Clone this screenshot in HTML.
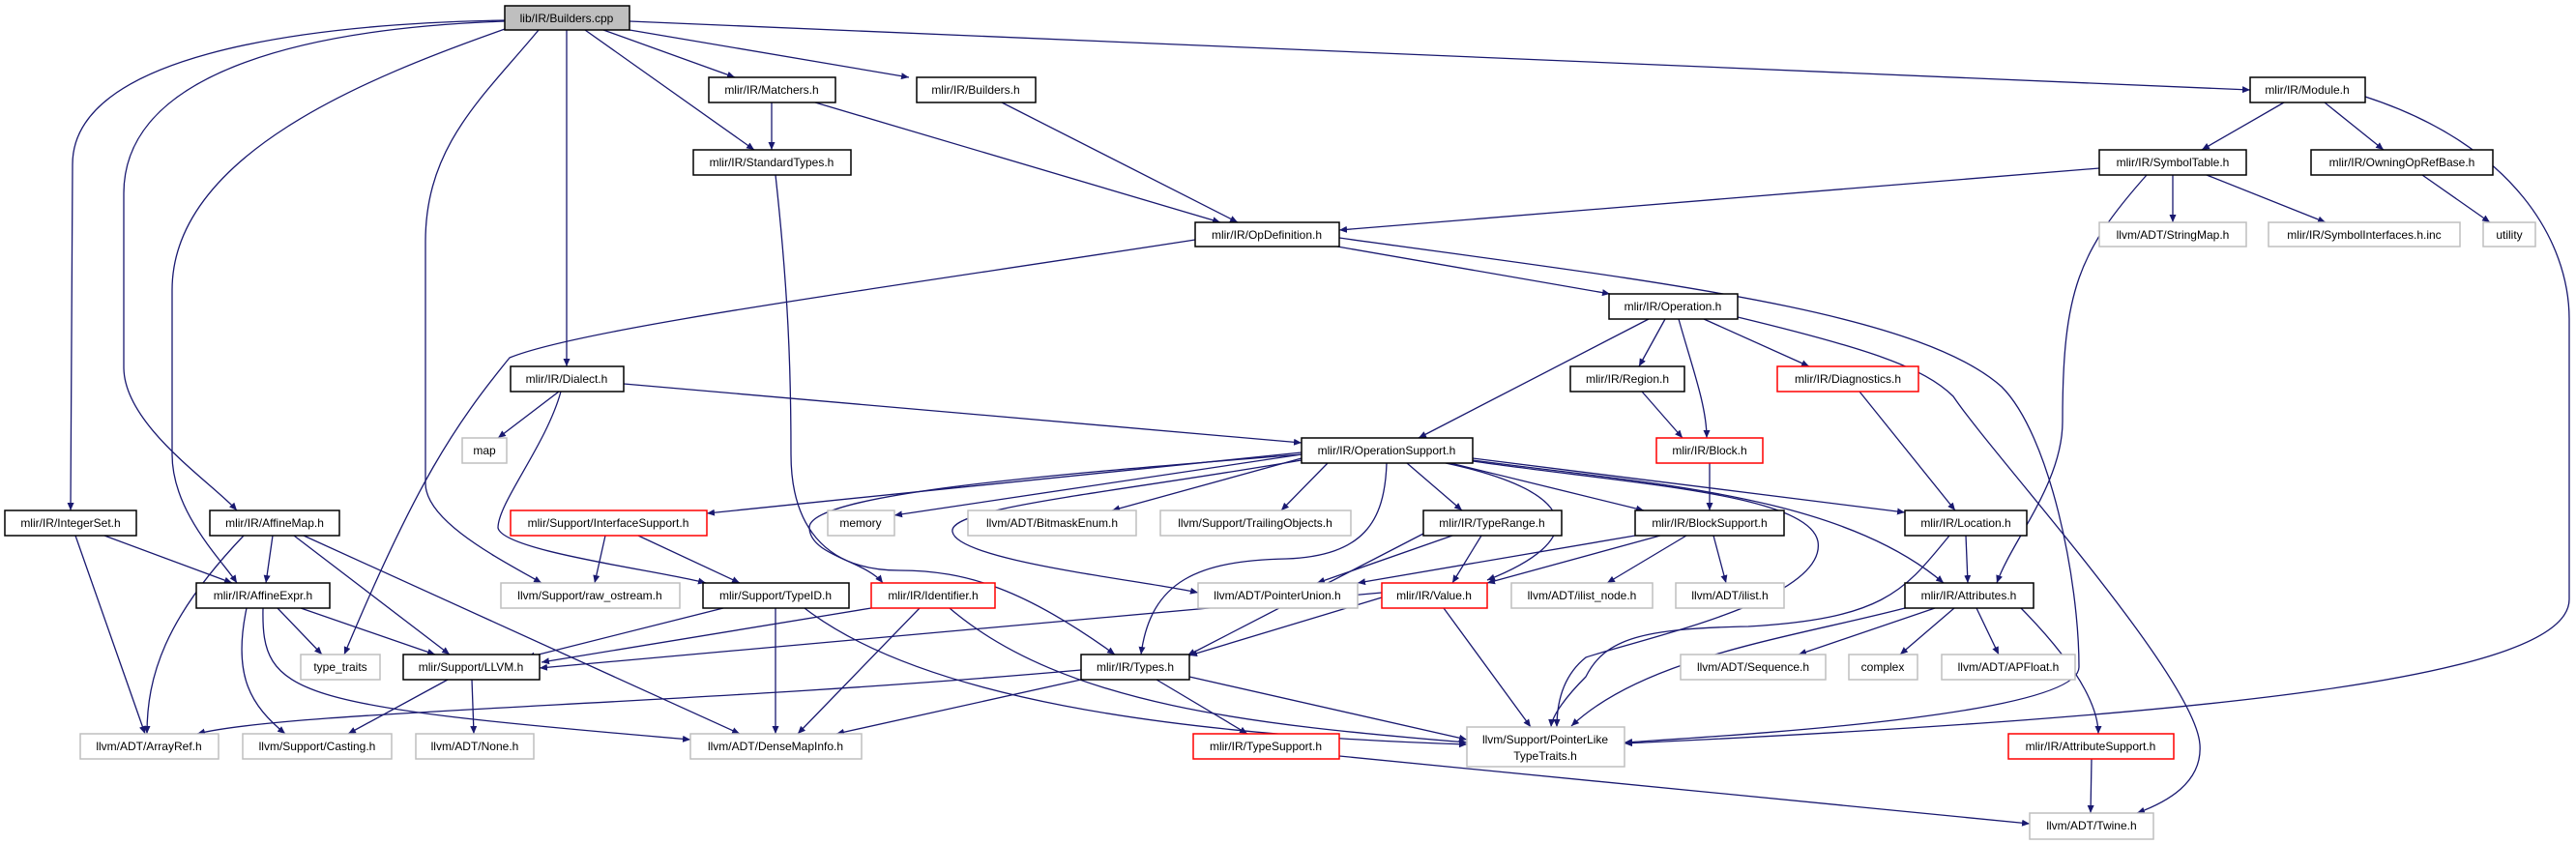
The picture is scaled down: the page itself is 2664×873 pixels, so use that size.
<!DOCTYPE html>
<html><head><meta charset="utf-8"><style>
html,body{margin:0;padding:0;background:#fff;}
svg{display:block;}
text{font-family:"Liberation Sans",sans-serif;font-size:12px;fill:#000;text-anchor:middle;}
.n{fill:#fff;stroke:#000;stroke-width:1.5;}
.g{fill:#fff;stroke:#bfbfbf;stroke-width:1.5;}
.r{fill:#fff;stroke:#ff0000;stroke-width:1.5;}
.e{fill:none;stroke:#191970;stroke-width:1.3;marker-end:url(#a);}
</style></head><body>
<svg width="2664" height="873" viewBox="0 0 2664 873" xmlns="http://www.w3.org/2000/svg">
<defs><marker id="a" viewBox="0 0 10 10" refX="10" refY="5" markerWidth="8" markerHeight="7" markerUnits="userSpaceOnUse" orient="auto" preserveAspectRatio="none"><path d="M0,0 L10,5 L0,10 z" fill="#191970"/></marker></defs>
<g>
<path class="e" d="M522,21 C300,25 75,60 75,170 L73,528"/>
<path class="e" d="M522,22 C300,30 128,80 128,200 L128,380 C128,440 220,500 245,528"/>
<path class="e" d="M525,29 C380,80 178,160 178,300 L178,470 C178,530 230,580 245,603"/>
<path class="e" d="M557,31 C500,100 440,150 440,250 L440,500 C440,540 520,580 560,603"/>
<path class="e" d="M586,31 L586,379"/>
<path class="e" d="M605,31 L780,155"/>
<path class="e" d="M624,31 L760,80"/>
<path class="e" d="M651,31 L940,80"/>
<path class="e" d="M651,22 L2327,93"/>
<path class="e" d="M798,106 L798,155"/>
<path class="e" d="M843,106 L1262,230"/>
<path class="e" d="M1036,106 L1280,230"/>
<path class="e" d="M802,181 C815,300 818,380 818,470 C818,540 850,590 930,590 C1000,590 1060,610 1153,677"/>
<path class="e" d="M1236,248 C900,300 600,340 527,370 C470,440 430,500 356,677"/>
<path class="e" d="M1383,255 L1665,304"/>
<path class="e" d="M1385,246 C1700,290 1980,320 2070,400 C2120,450 2150,600 2150,690 C2150,740 1800,760 1680,768"/>
<path class="e" d="M2362,106 L2277,155"/>
<path class="e" d="M2404,106 L2465,155"/>
<path class="e" d="M2446,100 C2600,150 2657,250 2657,330 L2657,620 C2657,700 2300,740 1680,769"/>
<path class="e" d="M2171,174 L1385,238"/>
<path class="e" d="M2247,181 L2247,230"/>
<path class="e" d="M2282,181 L2405,230"/>
<path class="e" d="M2220,181 C2150,260 2133,300 2133,436 C2133,500 2080,560 2065,603"/>
<path class="e" d="M2505,181 L2575,230"/>
<path class="e" d="M1705,330 L1467,453"/>
<path class="e" d="M1722,330 L1695,379"/>
<path class="e" d="M1736,330 C1750,380 1765,420 1765,453"/>
<path class="e" d="M1762,330 L1871,379"/>
<path class="e" d="M1797,328 C1930,360 1990,380 2020,410 C2060,470 2270,700 2275,770 C2278,810 2240,830 2210,841"/>
<path class="e" d="M1698,405 L1740,453"/>
<path class="e" d="M1923,405 L2022,528"/>
<path class="e" d="M578,405 L515,453"/>
<path class="e" d="M580,405 C565,460 515,520 515,546 C520,570 680,590 730,603"/>
<path class="e" d="M645,397 L1346,458"/>
<path class="e" d="M1346,468 L731,531"/>
<path class="e" d="M1346,470 L925,533"/>
<path class="e" d="M1346,474 L1150,528"/>
<path class="e" d="M1373,479 L1325,528"/>
<path class="e" d="M1346,470 C1100,490 835,510 837,546 C838,575 895,580 913,603"/>
<path class="e" d="M1346,476 C1150,510 980,525 985,550 C990,580 1180,600 1239,613"/>
<path class="e" d="M1434,479 C1432,540 1410,575 1330,578 C1240,580 1190,600 1180,677"/>
<path class="e" d="M1455,479 L1512,528"/>
<path class="e" d="M1495,479 C1640,510 1640,560 1538,600"/>
<path class="e" d="M1500,479 L1700,528"/>
<path class="e" d="M1523,474 L1970,530"/>
<path class="e" d="M1523,476 C1700,500 1900,510 2010,603"/>
<path class="e" d="M1523,477 C1680,500 1870,510 1880,560 C1890,620 1700,660 1640,680 C1615,700 1610,730 1610,752"/>
<path class="e" d="M1502,554 L1362,603"/>
<path class="e" d="M1472,552 L1228,678"/>
<path class="e" d="M1532,554 L1502,603"/>
<path class="e" d="M1691,554 L1404,603"/>
<path class="e" d="M1717,554 L1538,603"/>
<path class="e" d="M1744,554 L1662,603"/>
<path class="e" d="M1772,554 L1785,603"/>
<path class="e" d="M1768,479 L1768,528"/>
<path class="e" d="M2033,554 L2035,603"/>
<path class="e" d="M2016,554 C1970,610 1950,640 1808,648 C1700,650 1660,660 1640,700 C1620,720 1605,740 1604,752"/>
<path class="e" d="M1429,613 L558,691"/>
<path class="e" d="M1429,618 L1230,678"/>
<path class="e" d="M1493,629 L1583,752"/>
<path class="e" d="M1970,629 C1850,660 1700,680 1625,751"/>
<path class="e" d="M2001,629 L1860,677"/>
<path class="e" d="M2021,629 L1965,677"/>
<path class="e" d="M2044,629 L2067,677"/>
<path class="e" d="M2090,629 C2160,700 2170,740 2170,759"/>
<path class="e" d="M2163,785 L2162,841"/>
<path class="e" d="M1385,782 L2099,852"/>
<path class="e" d="M1118,693 C700,730 300,735 204,759"/>
<path class="e" d="M1118,703 L865,759"/>
<path class="e" d="M1196,703 L1290,759"/>
<path class="e" d="M1230,700 L1517,765"/>
<path class="e" d="M901,629 L560,685"/>
<path class="e" d="M951,629 L825,759"/>
<path class="e" d="M982,629 C1100,730 1300,750 1517,768"/>
<path class="e" d="M748,629 L545,680"/>
<path class="e" d="M802,629 L802,759"/>
<path class="e" d="M832,629 C950,720 1200,760 1517,770"/>
<path class="e" d="M626,554 L615,603"/>
<path class="e" d="M660,554 L765,603"/>
<path class="e" d="M108,554 L240,603"/>
<path class="e" d="M78,554 L150,759"/>
<path class="e" d="M282,554 L275,603"/>
<path class="e" d="M304,554 L465,677"/>
<path class="e" d="M314,554 L765,759"/>
<path class="e" d="M252,554 C170,640 152,700 152,759"/>
<path class="e" d="M287,629 L333,677"/>
<path class="e" d="M311,629 L450,677"/>
<path class="e" d="M255,629 C240,700 260,730 295,759"/>
<path class="e" d="M272,629 C270,720 300,730 714,765"/>
<path class="e" d="M463,703 L360,759"/>
<path class="e" d="M488,703 L490,759"/>
</g>
<g>
<rect x="522" y="6" width="129" height="25" fill="#bfbfbf" stroke="#000" stroke-width="1.5"/><text x="586" y="23">lib/IR/Builders.cpp</text>
<rect class="n" x="733" y="80" width="131" height="26"/><text x="798" y="97">mlir/IR/Matchers.h</text>
<rect class="n" x="948" y="80" width="123" height="26"/><text x="1009" y="97">mlir/IR/Builders.h</text>
<rect class="n" x="717" y="155" width="163" height="26"/><text x="798" y="172">mlir/IR/StandardTypes.h</text>
<rect class="n" x="1236" y="230" width="149" height="25"/><text x="1310" y="247">mlir/IR/OpDefinition.h</text>
<rect class="n" x="528" y="379" width="117" height="26"/><text x="586" y="396">mlir/IR/Dialect.h</text>
<rect class="n" x="2327" y="80" width="119" height="26"/><text x="2386" y="97">mlir/IR/Module.h</text>
<rect class="n" x="2171" y="155" width="152" height="26"/><text x="2247" y="172">mlir/IR/SymbolTable.h</text>
<rect class="n" x="2390" y="155" width="188" height="26"/><text x="2484" y="172">mlir/IR/OwningOpRefBase.h</text>
<rect class="g" x="2171" y="230" width="152" height="25"/><text x="2247" y="247">llvm/ADT/StringMap.h</text>
<rect class="g" x="2346" y="230" width="198" height="25"/><text x="2445" y="247">mlir/IR/SymbolInterfaces.h.inc</text>
<rect class="g" x="2568" y="230" width="54" height="25"/><text x="2595" y="247">utility</text>
<rect class="n" x="1664" y="304" width="133" height="26"/><text x="1730" y="321">mlir/IR/Operation.h</text>
<rect class="n" x="1624" y="379" width="118" height="26"/><text x="1683" y="396">mlir/IR/Region.h</text>
<rect class="r" x="1838" y="379" width="146" height="26"/><text x="1911" y="396">mlir/IR/Diagnostics.h</text>
<rect class="g" x="478" y="453" width="46" height="26"/><text x="501" y="470">map</text>
<rect class="n" x="1346" y="453" width="177" height="26"/><text x="1434" y="470">mlir/IR/OperationSupport.h</text>
<rect class="r" x="1713" y="453" width="110" height="26"/><text x="1768" y="470">mlir/IR/Block.h</text>
<rect class="n" x="5" y="528" width="136" height="26"/><text x="73" y="545">mlir/IR/IntegerSet.h</text>
<rect class="n" x="217" y="528" width="134" height="26"/><text x="284" y="545">mlir/IR/AffineMap.h</text>
<rect class="r" x="528" y="528" width="203" height="26"/><text x="629" y="545">mlir/Support/InterfaceSupport.h</text>
<rect class="g" x="856" y="528" width="69" height="26"/><text x="890" y="545">memory</text>
<rect class="g" x="1001" y="528" width="174" height="26"/><text x="1088" y="545">llvm/ADT/BitmaskEnum.h</text>
<rect class="g" x="1200" y="528" width="197" height="26"/><text x="1298" y="545">llvm/Support/TrailingObjects.h</text>
<rect class="n" x="1472" y="528" width="143" height="26"/><text x="1543" y="545">mlir/IR/TypeRange.h</text>
<rect class="n" x="1691" y="528" width="154" height="26"/><text x="1768" y="545">mlir/IR/BlockSupport.h</text>
<rect class="n" x="1970" y="528" width="126" height="26"/><text x="2033" y="545">mlir/IR/Location.h</text>
<rect class="n" x="203" y="603" width="138" height="26"/><text x="272" y="620">mlir/IR/AffineExpr.h</text>
<rect class="g" x="518" y="603" width="185" height="26"/><text x="610" y="620">llvm/Support/raw_ostream.h</text>
<rect class="n" x="727" y="603" width="151" height="26"/><text x="802" y="620">mlir/Support/TypeID.h</text>
<rect class="r" x="901" y="603" width="128" height="26"/><text x="965" y="620">mlir/IR/Identifier.h</text>
<rect class="g" x="1239" y="603" width="165" height="26"/><text x="1321" y="620">llvm/ADT/PointerUnion.h</text>
<rect class="r" x="1429" y="603" width="109" height="26"/><text x="1483" y="620">mlir/IR/Value.h</text>
<rect class="g" x="1563" y="603" width="146" height="26"/><text x="1636" y="620">llvm/ADT/ilist_node.h</text>
<rect class="g" x="1733" y="603" width="112" height="26"/><text x="1789" y="620">llvm/ADT/ilist.h</text>
<rect class="n" x="1970" y="603" width="133" height="26"/><text x="2036" y="620">mlir/IR/Attributes.h</text>
<rect class="g" x="311" y="677" width="82" height="26"/><text x="352" y="694">type_traits</text>
<rect class="n" x="417" y="677" width="141" height="26"/><text x="487" y="694">mlir/Support/LLVM.h</text>
<rect class="n" x="1118" y="677" width="112" height="26"/><text x="1174" y="694">mlir/IR/Types.h</text>
<rect class="g" x="1738" y="677" width="150" height="26"/><text x="1813" y="694">llvm/ADT/Sequence.h</text>
<rect class="g" x="1912" y="677" width="71" height="26"/><text x="1947" y="694">complex</text>
<rect class="g" x="2008" y="677" width="138" height="26"/><text x="2077" y="694">llvm/ADT/APFloat.h</text>
<rect class="g" x="83" y="759" width="143" height="26"/><text x="154" y="776">llvm/ADT/ArrayRef.h</text>
<rect class="g" x="251" y="759" width="154" height="26"/><text x="328" y="776">llvm/Support/Casting.h</text>
<rect class="g" x="430" y="759" width="122" height="26"/><text x="491" y="776">llvm/ADT/None.h</text>
<rect class="g" x="714" y="759" width="177" height="26"/><text x="802" y="776">llvm/ADT/DenseMapInfo.h</text>
<rect class="r" x="1234" y="759" width="151" height="26"/><text x="1309" y="776">mlir/IR/TypeSupport.h</text>
<rect class="g" x="1517" y="752" width="163" height="41"/><text x="1598" y="769">llvm/Support/PointerLike</text><text x="1598" y="786">TypeTraits.h</text>
<rect class="r" x="2077" y="759" width="171" height="26"/><text x="2162" y="776">mlir/IR/AttributeSupport.h</text>
<rect class="g" x="2099" y="841" width="128" height="27"/><text x="2163" y="858">llvm/ADT/Twine.h</text>
</g>
</svg>
</body></html>
